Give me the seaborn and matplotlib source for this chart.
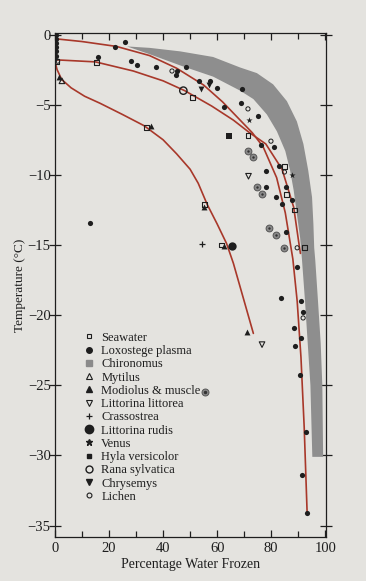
import matplotlib
matplotlib.use("Agg")
import matplotlib.pyplot as plt
from matplotlib.lines import Line2D
import seaborn as sns

# ---- values (x = % water frozen, y = temperature C) ----
seawater_x = [0.6, 15.4, 51.0, 34.0, 55.3, 61.7, 71.4, 85.0, 85.8, 88.6, 92.2]
seawater_y = [-1.9, -2.0, -4.5, -6.6, -12.1, -15.0, -7.2, -9.4, -11.4, -12.5, -15.2]

loxo_x = [0.4, 0.4, 0.4, 0.4, 0.4, 0.4, -0.8, 25.9, 22.2, 16.0, 28.0, 30.3, 37.3,
          48.4, 45.0, 44.8, 53.4, 57.4, 60.1, 62.6, 69.3, 68.8, 75.0, 80.9, 76.3,
          83.0, 78.0, 78.0, 85.6, 81.8, 87.7, 84.1, 85.6, 89.6, 83.7, 91.0, 91.8,
          88.3, 91.1, 88.9, 90.5, 92.9, 91.4, 93.2, 13.0]
loxo_y = [0.0, -0.3, -0.6, -0.9, -1.2, -1.5, -1.7, -0.5, -0.9, -1.6, -1.9, -2.2, -2.3,
          -2.3, -2.6, -2.9, -3.3, -3.3, -3.8, -5.2, -3.9, -4.9, -5.8, -8.0, -7.9,
          -9.4, -9.7, -10.9, -10.9, -11.6, -11.8, -12.1, -14.1, -16.6, -18.8, -19.0, -19.8,
          -20.9, -21.6, -22.2, -24.3, -28.3, -31.4, -34.1, -13.4]

# Chironomus: shaded band, outer and inner edge
chiro_outer_x = [26.7, 35.0, 46.3, 58.5, 68.5, 74.7, 80.7, 85.8, 89.5, 91.9, 93.7,
                 95.1, 95.6, 95.9, 96.3, 97.3, 98.3, 98.9, 99.2]
chiro_outer_y = [-0.85, -0.95, -1.2, -1.6, -2.35, -2.75, -3.55, -4.75, -6.2, -7.8, -9.7,
                 -11.6, -13.5, -15.2, -16.1, -19.0, -22.0, -25.0, -30.1]
chiro_inner_x = [26.7, 35.0, 46.3, 58.5, 68.5, 73.4, 78.4, 82.1, 85.2, 87.0, 88.3,
                 89.5, 90.7, 91.4, 92.5, 93.5, 94.5, 95.2]
chiro_inner_y = [-0.85, -1.4, -2.2, -3.0, -4.0, -4.6, -5.7, -6.9, -8.3, -9.7, -11.1,
                 -12.8, -14.5, -16.1, -19.0, -22.0, -25.0, -30.1]

mytilus_x = [2.6]
mytilus_y = [-3.3]
modiolus_x = [1.4, 35.6, 55.2, 62.6, 71.0]
modiolus_y = [-3.0, -6.5, -12.3, -15.1, -21.2]
muscle_x = [71.4, 73.4, 74.7, 76.5, 79.3, 81.9, 84.6]
muscle_y = [-8.3, -8.7, -10.9, -11.4, -13.8, -14.3, -15.2]
littorea_x = [-0.2, 71.6, 76.6]
littorea_y = [-2.0, -10.1, -22.1]
crassostrea_x = [54.4]
crassostrea_y = [-14.9]
rudis_x = [65.4]
rudis_y = [-15.1]
venus_x = [87.7, 71.6]
venus_y = [-10.0, -6.1]
hyla_x = [64.4]
hyla_y = [-7.2]
rana_x = [47.5]
rana_y = [-4.0]
chrysemys_x = [54.0, 57.1]
chrysemys_y = [-3.9, -3.6]
lichen_x = [1.0, 43.3, 71.4, 79.9, 84.9, 89.6, 91.8]
lichen_y = [-1.9, -2.6, -5.3, -7.6, -9.8, -15.2, -20.2]

# fitted curves
loxo_curve_x = [0, 10, 22.8, 35, 45, 55, 62, 68, 73, 77, 82, 85.2, 88, 89.6, 91, 92.2, 93.3]
loxo_curve_y = [-0.3, -0.5, -0.85, -1.5, -2.4, -3.6, -4.8, -6.0, -7.0, -8.0, -10.2,
                -12.7, -16.0, -19.0, -23.0, -28.0, -34.2]
sea_curve_x = [0, 15, 29, 40, 48, 58, 66, 72, 78, 84, 88.3, 90.1, 90.8]
sea_curve_y = [-1.8, -1.95, -2.6, -3.3, -4.0, -5.1, -6.1, -7.0, -7.8, -9.6, -12.3, -14.7, -15.6]
mod_curve_x = [0, 0.8, 2.5, 6, 11, 16.7, 25, 33, 40, 45, 50, 53, 56.3, 60, 63.5, 66, 70, 73.4]
mod_curve_y = [-1.9, -2.5, -3.2, -3.8, -4.4, -4.9, -5.7, -6.5, -7.5, -8.5, -9.6, -10.6, -12.1,
               -13.5, -14.9, -16.3, -19.0, -21.3]

legend_labels = ["Seawater", "Loxostege plasma", "Chironomus", "Mytilus",
                 "Modiolus & muscle", "Littorina littorea", "Crassostrea",
                 "Littorina rudis", "Venus", "Hyla versicolor", "Rana sylvatica",
                 "Chrysemys", "Lichen"]

PAPER = "#e4e3df"
INK = "#1e1e1e"
RED = "#a8382a"
BAND = "#8e8e8e"
MUSCLE = "#8a8a8a"

sns.set_theme(style="ticks")
plt.rcParams["font.family"] = ["Liberation Serif", "DejaVu Serif"]
plt.rcParams["axes.unicode_minus"] = True

fig = plt.figure(figsize=(3.66, 5.81), dpi=100, facecolor=PAPER)
ax = fig.add_axes([0.150, 0.076, 0.741, 0.867])
ax.set_facecolor(PAPER)

ax.fill(chiro_outer_x + chiro_inner_x[::-1], chiro_outer_y + chiro_inner_y[::-1],
        color=BAND, lw=0, zorder=1)

for cx, cy in [(loxo_curve_x, loxo_curve_y), (sea_curve_x, sea_curve_y),
               (mod_curve_x, mod_curve_y)]:
    sns.lineplot(x=cx, y=cy, sort=False, estimator=None, color=RED, lw=1.2,
                 ax=ax, zorder=2)


def pts(x, y, **kw):
    sns.scatterplot(x=x, y=y, ax=ax, legend=False, zorder=3, **kw)


opn = dict(facecolor="none", edgecolor=INK, linewidth=0.8)
pts(seawater_x, seawater_y, marker="s", s=12, **opn)
pts(loxo_x, loxo_y, marker="o", s=14, color=INK, edgecolor=INK, linewidth=0)
pts(mytilus_x, mytilus_y, marker="^", s=16, **opn)
pts(modiolus_x, modiolus_y, marker="^", s=18, color=INK, edgecolor=INK, linewidth=0)
pts(muscle_x, muscle_y, marker="o", s=24, color=MUSCLE, edgecolor="#555555", linewidth=0.7)
pts(muscle_x, muscle_y, marker="o", s=3, color="#333333", edgecolor="#333333", linewidth=0)
pts(littorea_x, littorea_y, marker="v", s=16, **opn)
pts(crassostrea_x, crassostrea_y, marker="+", s=22, color=INK, linewidth=0.9)
pts(rudis_x, rudis_y, marker="o", s=36, color=INK, edgecolor=INK, linewidth=0)
pts(venus_x, venus_y, marker="*", s=22, color=INK, edgecolor=INK, linewidth=0)
pts(hyla_x, hyla_y, marker="s", s=14, color=INK, edgecolor=INK, linewidth=0)
pts(rana_x, rana_y, marker="o", s=28, facecolor="none", edgecolor=INK, linewidth=1.0)
pts(chrysemys_x, chrysemys_y, marker="v", s=18, color=INK, edgecolor=INK, linewidth=0)
pts(lichen_x, lichen_y, marker="o", s=9, facecolor="none", edgecolor=INK, linewidth=0.7)

ax.set_xlim(0, 100.3)
ax.set_ylim(-35.8, 0.1)
ax.set_xticks(range(0, 101, 20))
ax.set_xticks(range(10, 100, 20), minor=True)
ax.set_yticks(range(0, -36, -5))
ax.tick_params(axis="x", which="both", direction="in", length=4, width=0.9,
               top=True, labelsize=10.5, colors=INK, pad=4)
ax.tick_params(axis="x", which="major", top=True, length=5)
ax.tick_params(axis="y", direction="inout", length=8, width=0.9, right=True,
               labelsize=10.5, colors=INK, pad=-1)
for sp in ax.spines.values():
    sp.set_color(INK)
    sp.set_linewidth(0.9)

ax.set_xlabel("Percentage Water Frozen", fontsize=10, color=INK, labelpad=2)
ax.set_ylabel("Temperature (°C)", fontsize=9.5, color=INK, labelpad=1.5)

handles = [
    Line2D([], [], ls="none", marker="s", ms=3.5, mfc="none", mec=INK, mew=0.8),
    Line2D([], [], ls="none", marker="o", ms=4, mfc=INK, mec=INK),
    Line2D([], [], ls="none", marker="s", ms=4, mfc=MUSCLE, mec=MUSCLE),
    Line2D([], [], ls="none", marker="^", ms=4, mfc="none", mec=INK, mew=0.8),
    Line2D([], [], ls="none", marker="^", ms=4, mfc=INK, mec=INK),
    Line2D([], [], ls="none", marker="v", ms=4, mfc="none", mec=INK, mew=0.8),
    Line2D([], [], ls="none", marker="+", ms=5, mec=INK, mew=0.9),
    Line2D([], [], ls="none", marker="o", ms=6, mfc=INK, mec=INK),
    Line2D([], [], ls="none", marker="*", ms=4.5, mfc=INK, mec=INK),
    Line2D([], [], ls="none", marker="s", ms=3.5, mfc=INK, mec=INK),
    Line2D([], [], ls="none", marker="o", ms=5, mfc="none", mec=INK, mew=1.0),
    Line2D([], [], ls="none", marker="v", ms=4, mfc=INK, mec=INK),
    Line2D([], [], ls="none", marker="o", ms=3.5, mfc="none", mec=INK, mew=0.8),
]
leg = ax.legend(handles, legend_labels, loc="upper left", bbox_to_anchor=(0.102, 0.407),
                frameon=False, fontsize=9, handlelength=1.0, handletextpad=0.5,
                labelspacing=0.1, borderaxespad=0, borderpad=0)
for t in leg.get_texts():
    t.set_color(INK)

# grey muscle marker placed right after the "Modiolus & muscle" label
fig.canvas.draw()
bb = leg.get_texts()[4].get_window_extent()
mx, my = ax.transAxes.inverted().transform((bb.x1 + 4, (bb.y0 + bb.y1) / 2 - 1))
ax.plot([mx], [my], transform=ax.transAxes, marker="o", ms=5, mfc=MUSCLE,
        mec="#555555", mew=0.7, ls="none", clip_on=False)
ax.plot([mx], [my], transform=ax.transAxes, marker="o", ms=1.5, mfc="#333333",
        mec="#333333", ls="none", clip_on=False)

fig.savefig("out.png", dpi=100, facecolor=PAPER)
